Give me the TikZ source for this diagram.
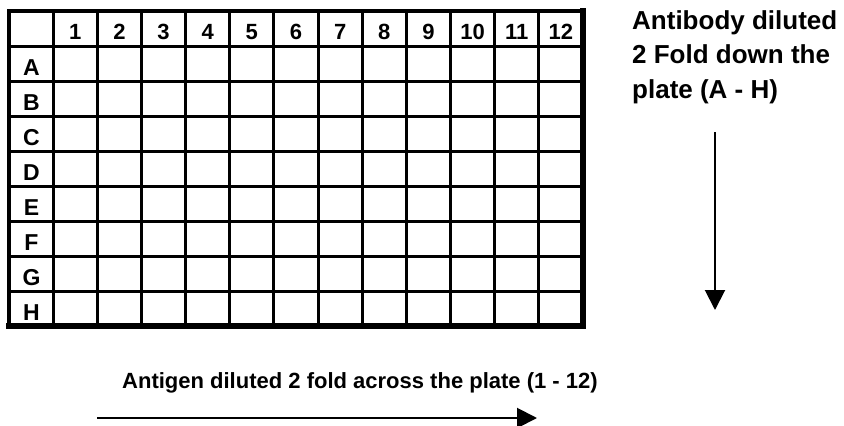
\documentclass[tikz,border=0pt]{standalone}
\usepackage{fontspec}
\setmainfont{Liberation Sans}
\usetikzlibrary{arrows.meta}
\begin{document}
\begin{tikzpicture}[x=1pt,y=-1pt,
  lbl/.style={font=\bfseries\fontsize{22}{22}\selectfont,anchor=base,inner sep=0pt},
  note/.style={font=\bfseries\fontsize{22}{22}\selectfont,anchor=base west,inner sep=0pt},
  bignote/.style={note,font=\bfseries\fontsize{26}{26}\selectfont},
  dil/.style={-{Triangle[length=20pt,width=20pt]},line width=2pt}]
\useasboundingbox (0,0) rectangle (844,426);
% plate grid
\foreach \i in {1,...,12}
  \draw[line width=3pt] ({9+44.15*\i},11) -- ({9+44.15*\i},326);
\foreach \j in {1,...,8}
  \draw[line width=3pt] (9,{11+35*\j}) -- (583,{11+35*\j});
\draw[line width=4pt] (9,11) rectangle (583,326);
\draw[line width=6pt,line cap=rect] (583,11) -- (583,326) -- (9,326);
% column and row labels
\foreach \c in {1,...,12}
  \node[lbl] (col\c) at ({9+44.15*(\c+0.5)},39.5) {\c};
\foreach \r [count=\k] in {A,...,H}
  \node[lbl,font=\bfseries\fontsize{23}{23}\selectfont] (row\r) at (31.5,{40.5+35*\k}) {\r};
% antibody dilution
\node[bignote] (ab1) at (632,29) {Antibody diluted};
\node[bignote] (ab2) at (632,63.5) {2 Fold down the};
\node[bignote] (ab3) at (632,98) {plate (A - H)};
\coordinate (abtop) at (715,132);
\coordinate (abend) at (715,310);
\draw[dil] (abtop) -- (abend);
% antigen dilution
\node[note] (ag) at (122,388) {Antigen diluted 2 fold across the plate (1 - 12)};
\coordinate (agstart) at (97,418);
\coordinate (agend) at (537,418);
\draw[dil] (agstart) -- (agend);
\end{tikzpicture}
\end{document}
